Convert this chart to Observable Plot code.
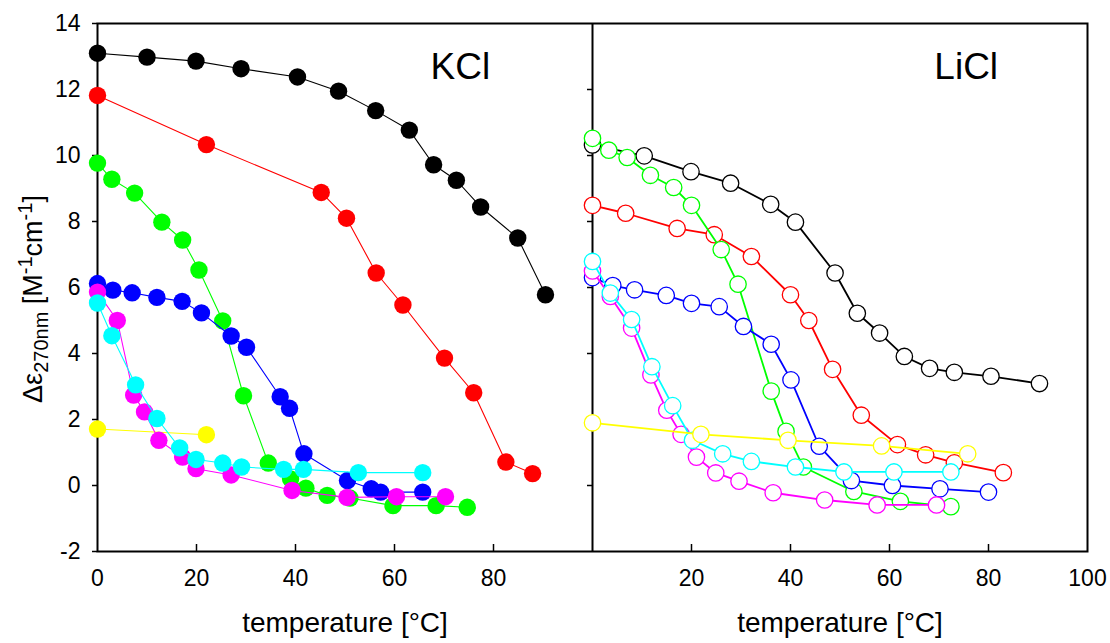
<!DOCTYPE html>
<html>
<head>
<meta charset="utf-8">
<script src="https://cdn.jsdelivr.net/npm/d3@7"></script>
<script src="https://cdn.jsdelivr.net/npm/@observablehq/plot@0.6"></script>
<style>
  html, body { margin: 0; padding: 0; background: #fff; }
  #chart { width: 1110px; height: 643px; }
</style>
</head>
<body>
<div id="chart"></div>
<script>
// ---- data: [temperature °C, Δε270nm] ----
const kclBlack   = [[0,13.1],[10,12.98],[19.9,12.86],[29,12.63],[40.4,12.38],[48.7,11.95],[56.2,11.36],[63,10.77],[67.9,9.72],[72.5,9.25],[77.4,8.44],[84.9,7.5],[90.5,5.78]];
const kclRed     = [[0,11.82],[22,10.33],[45.2,8.88],[50.3,8.1],[56.3,6.44],[61.7,5.47],[70.1,3.86],[76,2.81],[82.5,0.71],[87.9,0.36]];
const kclGreen   = [[0,9.77],[2.9,9.28],[7.5,8.86],[13,7.98],[17.2,7.44],[20.5,6.53],[25.3,4.99],[29.5,2.72],[34.5,0.68],[39,0.2],[42.1,-0.08],[46.4,-0.3],[51,-0.38],[59.7,-0.61],[68.4,-0.61],[74.7,-0.66]];
const kclBlue    = [[0,6.12],[3.1,5.92],[7,5.84],[12,5.7],[17.1,5.58],[21,5.23],[27,4.53],[30.1,4.19],[36.9,2.69],[38.8,2.34],[41.7,0.96],[50.5,0.15],[55.3,-0.1],[57.2,-0.2],[65.7,-0.2]];
const kclYellow  = [[0,1.71],[22,1.54]];
const kclMagenta = [[0,5.86],[4,5.0],[7.3,2.74],[9.5,2.23],[12.4,1.37],[17.2,0.86],[19.9,0.51],[27,0.32],[39.3,-0.15],[50.4,-0.36],[60.4,-0.34],[70.3,-0.34]];
const kclCyan    = [[0,5.53],[2.9,4.54],[7.7,3.05],[12,2.03],[16.6,1.14],[19.9,0.79],[25.3,0.68],[29.1,0.56],[37.6,0.49],[41.6,0.49],[52.7,0.39],[65.7,0.39]];

const liclBlack   = [[0,10.32],[10.45,9.99],[19.9,9.51],[27.9,9.16],[36,8.52],[41,7.98],[49,6.44],[53.5,5.22],[58,4.62],[63,3.91],[68.1,3.55],[73.1,3.43],[80.5,3.31],[90.3,3.09]];
const liclRed     = [[0,8.49],[6.7,8.25],[17.1,7.79],[24.6,7.6],[32.1,6.94],[40,5.78],[43.7,5.0],[48.5,3.52],[54.3,2.13],[61.6,1.24],[67.3,0.93],[73.1,0.69],[83,0.39]];
const liclGreen   = [[0,10.52],[3.3,10.16],[7,9.94],[11.7,9.4],[16.4,9.03],[20,8.49],[26,7.15],[29.4,6.1],[36.1,2.86],[39.1,1.64],[42.6,0.56],[52.8,-0.18],[62.2,-0.48],[72.4,-0.64]];
const liclBlue    = [[0,6.3],[4.1,6.06],[8.5,5.93],[14.9,5.76],[20,5.52],[25.6,5.42],[30.5,4.82],[36.1,4.28],[40.1,3.2],[45.8,1.19],[52.3,0.15],[60.6,0.0],[70.2,-0.1],[80,-0.2]];
const liclMagenta = [[0,6.5],[3.6,5.73],[7.9,4.77],[11.8,3.35],[15,2.28],[17.9,1.55],[21,0.86],[24.9,0.38],[29.6,0.13],[36.5,-0.22],[46.9,-0.44],[57.5,-0.59],[69.5,-0.59]];
const liclCyan    = [[0,6.79],[3.6,5.83],[7.9,5.03],[12,3.6],[16.2,2.42],[20.2,1.37],[26.3,0.96],[32.1,0.73],[41,0.56],[50.8,0.41],[60.9,0.41],[72.4,0.41]];
const liclYellow  = [[0,1.9],[21.9,1.55],[39.5,1.37],[58.4,1.2],[75.8,0.96]];

const panels = ["KCl", "LiCl"];
const yTicks = [-2, 0, 2, 4, 6, 8, 10, 12, 14];
const xTicksKCl = [0, 20, 40, 60, 80];
const xTicksLiCl = [20, 40, 60, 80, 100];
const xTitle = "temperature [°C]";

// series in drawing order
const kclSeries = [
  {data: kclBlack, color: "#000000"},
  {data: kclRed, color: "#ff0000"},
  {data: kclGreen, color: "#00ff00"},
  {data: kclBlue, color: "#0000ff"},
  {data: kclYellow, color: "#ffff00"},
  {data: kclMagenta, color: "#ff00ff"},
  {data: kclCyan, color: "#00ffff"}
];
const liclSeries = [
  {data: liclBlack, color: "#000000"},
  {data: liclRed, color: "#ff0000"},
  {data: liclGreen, color: "#00ff00"},
  {data: liclBlue, color: "#0000ff"},
  {data: liclMagenta, color: "#ff00ff"},
  {data: liclCyan, color: "#00ffff"},
  {data: liclYellow, color: "#ffff00"}
];

// the LiCl panel is placed next to the KCl panel on a shared x scale (offset 100)
const OFFSET = 100;
const toRows = (series, offset) => series.data.map(([t, v]) => ({t, v, x: t + offset}));

const marks = [];
for (const s of kclSeries) {
  const rows = toRows(s, 0);
  marks.push(Plot.line(rows, {x: "x", y: "v", stroke: s.color, strokeWidth: 1.1}));
  marks.push(Plot.dot(rows, {x: "x", y: "v", r: 8.7, fill: s.color, stroke: "none"}));
}
for (const s of liclSeries) {
  const rows = toRows(s, OFFSET);
  marks.push(Plot.line(rows, {x: "x", y: "v", stroke: s.color, strokeWidth: 1.8}));
  marks.push(Plot.dot(rows, {x: "x", y: "v", r: 8.2, fill: "white", stroke: s.color, strokeWidth: 1.3}));
}

const FONT = "'Liberation Sans', Arial, Helvetica, sans-serif";

const chart = Plot.plot({
  width: 1110,
  height: 643,
  marginLeft: 97,
  marginRight: 23,
  marginTop: 23,
  marginBottom: 92,
  style: {fontFamily: FONT, fontSize: "23px", color: "#000", background: "#fff", overflow: "visible"},
  x: {domain: [0, 200], label: null},
  y: {domain: [-2, 14], label: null},
  marks: [
    // panel frame and divider
    Plot.frame({stroke: "#000", strokeWidth: 2}),
    Plot.ruleX([OFFSET], {stroke: "#000", strokeWidth: 2}),
    // left y axis (outward ticks)
    Plot.axisY(yTicks, {tickSize: 5, tickPadding: 12, strokeWidth: 1.5, fontSize: 23, tickFormat: d => String(d), label: null}),
    // inward y ticks on the divider
    Plot.ruleY(yTicks.filter(d => d > -2 && d < 14), {y: d => d, x1: OFFSET, x2: OFFSET, insetLeft: -5, strokeWidth: 1.5}),
    // inward x ticks
    Plot.ruleX([...xTicksKCl.filter(d => d > 0), ...xTicksLiCl.filter(d => d < 100).map(d => d + OFFSET)],
      {x: d => d, y1: -2, y2: -2, insetTop: -7, strokeWidth: 1.5}),
    // x tick labels
    Plot.axisX([...xTicksKCl, ...xTicksLiCl.map(d => d + OFFSET)], {
      tickSize: 0, tickPadding: 18, fontSize: 23, label: null,
      tickFormat: d => String(d > OFFSET ? d - OFFSET : d)
    }),
    // x axis titles
    Plot.text(panels, {x: (d, i) => 50 + i * OFFSET, text: () => xTitle, frameAnchor: "bottom", dy: 80, fontSize: 28, textAnchor: "middle"}),
    // data
    ...marks,
    // panel labels
    Plot.text(panels, {x: (d, i) => (i === 0 ? 73.3 : 75.5 + OFFSET), y: 12.68, text: d => d, fontSize: 37, textAnchor: "middle"})
  ]
});

document.getElementById("chart").appendChild(chart);

// y-axis title with subscript / superscripts
const svg = d3.select(chart);
const yl = svg.append("text")
  .attr("transform", "translate(42,299) rotate(-90)")
  .attr("text-anchor", "middle")
  .attr("font-family", FONT)
  .attr("font-size", 27)
  .attr("fill", "#000");
yl.append("tspan").text("Δε");
yl.append("tspan").attr("font-size", 20).attr("dy", 6).text("270nm");
yl.append("tspan").attr("dy", -6).text(" [M");
yl.append("tspan").attr("font-size", 20).attr("dy", -10).text("-1");
yl.append("tspan").attr("dy", 10).text("cm");
yl.append("tspan").attr("font-size", 20).attr("dy", -10).text("-1");
yl.append("tspan").attr("dy", 10).text("]");
</script>
</body>
</html>
